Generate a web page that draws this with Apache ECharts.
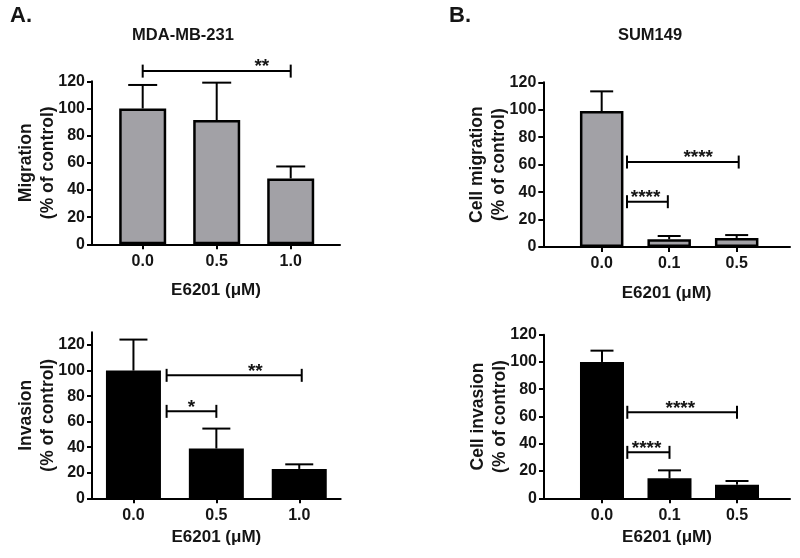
<!DOCTYPE html>
<html><head><meta charset="utf-8">
<script src="https://cdn.jsdelivr.net/npm/echarts@6/dist/echarts.min.js"></script>
<style>html,body{margin:0;padding:0;background:#fff}#c{width:800px;height:558px}</style>
</head><body><div id="c"></div>
<script>
// ---- data ----
const doseA = ['0.0', '0.5', '1.0'];
const doseB = ['0.0', '0.1', '0.5'];
const yTicks = [0, 20, 40, 60, 80, 100, 120];

const migA = [100, 91.5, 48.5];
const migASd = [17.3, 27.5, 8.8];
const invA = [100, 39, 23];
const invASd = [24.3, 15.6, 3.6];
const migB = [99, 5.6, 6.6];
const migBSd = [14.4, 2.4, 2.1];
const invB = [100, 14.7, 10];
const invBSd = [8.3, 5.8, 2.7];

// significance brackets: from group, to group, height (% of control), label, label position (group units)
const sigMigA = [{ from: 0, to: 2, y: 127.5, text: '**', at: 1.61 }];
const sigInvA = [
  { from: 0.4, to: 2.03, y: 96.3, text: '**', at: 1.47 },
  { from: 0.4, to: 1.0, y: 68.1, text: '*', at: 0.70 }
];
const sigMigB = [
  { from: 0.375, to: 2.03, y: 61.9, text: '****', at: 1.43 },
  { from: 0.375, to: 0.98, y: 33, text: '****', at: 0.65 }
];
const sigInvB = [
  { from: 0.375, to: 2.0, y: 63.1, text: '****', at: 1.16 },
  { from: 0.375, to: 1.0, y: 33.7, text: '****', at: 0.66 }
];

// ---- chart ----
const AX = '"Liberation Sans", Arial, sans-serif';
const TXT = '#151515';
const chart = echarts.init(document.getElementById('c'), null, { renderer: 'canvas' });

const grids = [
  { left: 92, top: 81.3, width: 248, height: 163, outerBoundsMode: 'none' },
  { left: 92, top: 332.3, width: 248.7, height: 166, outerBoundsMode: 'none' },
  { left: 543.3, top: 82.3, width: 246.7, height: 164.7, outerBoundsMode: 'none' },
  { left: 544, top: 334.7, width: 246, height: 163.6, outerBoundsMode: 'none' }
];

function xAxis(i, cats, min, max, gap) {
  return {
    type: 'value', gridIndex: i, min: min, max: max, z: 10,
    splitLine: { show: false },
    axisLine: { show: true, onZero: false, lineStyle: { color: '#000', width: 2 } },
    axisTick: { show: true, customValues: [0, 1, 2], length: 5, lineStyle: { color: '#000', width: 2 } },
    axisLabel: { customValues: [0, 1, 2], formatter: v => cats[Math.round(v)], margin: 9,
      color: TXT, fontFamily: AX, fontWeight: 'bold', fontSize: 16 },
    name: 'E6201 (\u03bcM)', nameLocation: 'middle', nameGap: gap, nameMoveOverlap: false,
    nameTextStyle: { color: TXT, fontFamily: AX, fontWeight: 'bold', fontSize: 17 }
  };
}
function yAxis(i, name, max, gap) {
  return {
    type: 'value', gridIndex: i, min: 0, max: max, z: 10,
    splitLine: { show: false },
    axisLine: { show: true, onZero: false, lineStyle: { color: '#000', width: 2 } },
    axisTick: { show: true, customValues: yTicks, length: 5, lineStyle: { color: '#000', width: 2 } },
    axisLabel: { customValues: yTicks, margin: 7, color: TXT, fontFamily: AX, fontWeight: 'bold', fontSize: 16 },
    name: name, nameLocation: 'middle', nameRotate: 90, nameGap: gap, nameMoveOverlap: false,
    nameTextStyle: { color: TXT, fontFamily: AX, fontWeight: 'bold', fontSize: 17.5, lineHeight: 22, align: 'center' }
  };
}

function barSeries(i, vals, color, width) {
  return {
    type: 'bar', xAxisIndex: i, yAxisIndex: i, barWidth: width, z: 3,
    data: vals.map((v, k) => [k, v]),
    itemStyle: { color: color, borderColor: '#000', borderWidth: 2.5 },
    silent: true, animation: false
  };
}
function errSeries(i, vals, sds, cap) {
  return {
    type: 'custom', xAxisIndex: i, yAxisIndex: i, z: 2, silent: true, animation: false,
    data: vals.map((v, k) => [k, v, v + sds[k]]),
    renderItem: function (params, api) {
      const p0 = api.coord([api.value(0), api.value(1)]);
      const p1 = api.coord([api.value(0), api.value(2)]);
      const st = { stroke: '#000', lineWidth: 2 };
      return { type: 'group', children: [
        { type: 'line', shape: { x1: p0[0], y1: p0[1], x2: p1[0], y2: p1[1] }, style: st },
        { type: 'line', shape: { x1: p1[0] - cap / 2, y1: p1[1], x2: p1[0] + cap / 2, y2: p1[1] }, style: st }
      ] };
    }
  };
}
function sigSeries(i, list) {
  return {
    type: 'custom', xAxisIndex: i, yAxisIndex: i, z: 4, silent: true, animation: false,
    data: list.map(d => [d.from, d.to, d.y, d.at]),
    renderItem: function (params, api) {
      const d = list[params.dataIndex];
      const a = api.coord([api.value(0), api.value(2)]);
      const b = api.coord([api.value(1), api.value(2)]);
      const t = api.coord([api.value(3), api.value(2)]);
      const st = { stroke: '#000', lineWidth: 2 };
      const h = 6.5;
      return { type: 'group', children: [
        { type: 'line', shape: { x1: a[0], y1: a[1], x2: b[0], y2: b[1] }, style: st },
        { type: 'line', shape: { x1: a[0], y1: a[1] - h, x2: a[0], y2: a[1] + h }, style: st },
        { type: 'line', shape: { x1: b[0], y1: b[1] - h, x2: b[0], y2: b[1] + h }, style: st },
        { type: 'text', style: { text: d.text, x: t[0], y: t[1] - 4, align: 'center', verticalAlign: 'middle',
          font: 'bold 19px ' + AX, fill: TXT } }
      ] };
    }
  };
}

const GRAY = '#a2a1a6';
chart.setOption({
  backgroundColor: '#fff',
  animation: false,
  title: [
    { text: 'A.', left: 5, top: 0, textStyle: { fontFamily: AX, fontWeight: 'bold', fontSize: 22, color: TXT } },
    { text: 'B.', left: 444, top: 0, textStyle: { fontFamily: AX, fontWeight: 'bold', fontSize: 22, color: TXT } },
    { text: 'MDA-MB-231', left: 178, top: 22, textAlign: 'center', textStyle: { fontFamily: AX, fontWeight: 'bold', fontSize: 16.5, color: TXT } },
    { text: 'SUM149', left: 645, top: 22, textAlign: 'center', textStyle: { fontFamily: AX, fontWeight: 'bold', fontSize: 16.5, color: TXT } }
  ],
  grid: grids,
  xAxis: [
    xAxis(0, doseA, -0.685, 2.666, 38),
    xAxis(1, doseA, -0.5, 2.5, 31),
    xAxis(2, doseB, -0.865, 2.79, 38),
    xAxis(3, doseB, -0.859, 2.785, 31)
  ],
  yAxis: [
    yAxis(0, 'Migration\n(% of control)', 120, 33),
    yAxis(1, 'Invasion\n(% of control)', 130, 33),
    yAxis(2, 'Cell migration\n(% of control)', 120, 33),
    yAxis(3, 'Cell invasion\n(% of control)', 120, 33)
  ],
  series: [
    errSeries(0, migA, migASd, 29), barSeries(0, migA, GRAY, 47), sigSeries(0, sigMigA),
    errSeries(1, invA, invASd, 28), barSeries(1, invA, '#000', 55), sigSeries(1, sigInvA),
    errSeries(2, migB, migBSd, 23), barSeries(2, migB, GRAY, 43.5), sigSeries(2, sigMigB),
    errSeries(3, invB, invBSd, 23), barSeries(3, invB, '#000', 44), sigSeries(3, sigInvB)
  ]
});
</script>
</body></html>
